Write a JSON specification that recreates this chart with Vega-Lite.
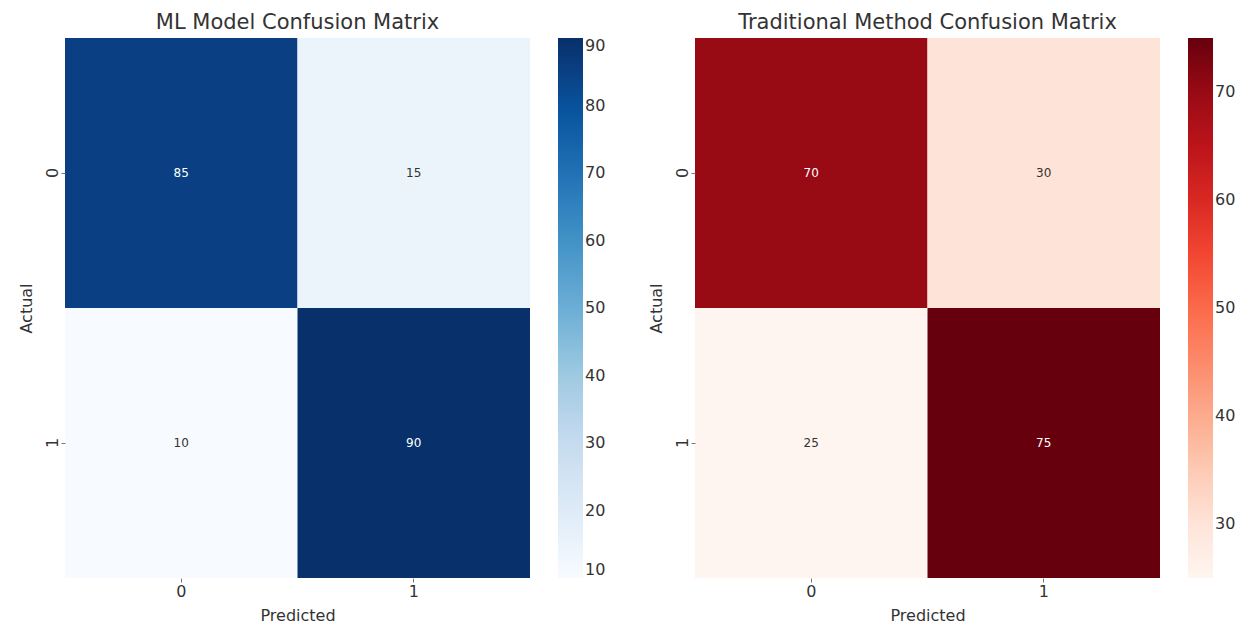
{
  "$schema": "https://vega.github.io/schema/vega-lite/v6.json",
  "background": "white",
  "padding": {"left": 18, "top": 12, "right": 5, "bottom": 5},
  "config": {
    "font": "DejaVu Sans",
    "view": {"stroke": null},
    "axis": {"domain": false, "grid": false, "labelFontSize": 16, "titleFontSize": 16, "labelColor": "#333", "titleColor": "#333", "tickColor": "#777", "tickSize": 4, "titleFontWeight": "normal", "labelPadding": 1, "titlePadding": 8},
    "legend": {"gradientLength": 540, "gradientThickness": 25, "labelFontSize": 16, "labelColor": "#333", "offset": 28, "gradientStrokeWidth": 0, "labelOffset": 6, "labelBaseline": "middle"},
    "title": {"fontSize": 21, "fontWeight": "normal", "color": "#333", "offset": 5}
  },
  "datasets": {
    "ml": [
      {"actual": "0", "predicted": "0", "count": 85},
      {"actual": "0", "predicted": "1", "count": 15},
      {"actual": "1", "predicted": "0", "count": 10},
      {"actual": "1", "predicted": "1", "count": 90}
    ],
    "trad": [
      {"actual": "0", "predicted": "0", "count": 70},
      {"actual": "0", "predicted": "1", "count": 30},
      {"actual": "1", "predicted": "0", "count": 25},
      {"actual": "1", "predicted": "1", "count": 75}
    ]
  },
  "spacing": 42,
  "resolve": {"scale": {"color": "independent"}},
  "hconcat": [
    {
      "title": "ML Model Confusion Matrix",
      "width": 465,
      "height": 540,
      "data": {"name": "ml"},
      "encoding": {
        "x": {"field": "predicted", "type": "ordinal", "title": "Predicted", "axis": {"labelAngle": 0}},
        "y": {"field": "actual", "type": "ordinal", "title": "Actual", "axis": {"labelAngle": -90, "labelAlign": "center", "labelBaseline": "bottom", "titlePadding": 10}}
      },
      "layer": [
        {
          "mark": {"type": "rect"},
          "encoding": {
            "color": {"field": "count", "type": "quantitative", "scale": {"domain": [10, 20, 30, 40, 50, 60, 70, 80, 90], "range": ["#f7fbff", "#deebf7", "#c6dbef", "#9ecae1", "#6baed6", "#4292c6", "#2171b5", "#08519c", "#08306b"]}, "legend": {"title": null, "values": [10, 20, 30, 40, 50, 60, 70, 80, 90]}}
          }
        },
        {
          "mark": {"type": "text", "fontSize": 12},
          "encoding": {
            "text": {"field": "count", "type": "quantitative"},
            "color": {"condition": {"test": "datum.count > 50", "value": "white"}, "value": "#333"}
          }
        }
      ]
    },
    {
      "title": "Traditional Method Confusion Matrix",
      "width": 465,
      "height": 540,
      "data": {"name": "trad"},
      "encoding": {
        "x": {"field": "predicted", "type": "ordinal", "title": "Predicted", "axis": {"labelAngle": 0}},
        "y": {"field": "actual", "type": "ordinal", "title": "Actual", "axis": {"labelAngle": -90, "labelAlign": "center", "labelBaseline": "bottom", "titlePadding": 10}}
      },
      "layer": [
        {
          "mark": {"type": "rect"},
          "encoding": {
            "color": {"field": "count", "type": "quantitative", "scale": {"domain": [25, 31.25, 37.5, 43.75, 50, 56.25, 62.5, 68.75, 75], "range": ["#fff5f0", "#fee0d2", "#fcbba1", "#fc9272", "#fb6a4a", "#ef3b2c", "#cb181d", "#a50f15", "#67000d"]}, "legend": {"title": null, "values": [30, 40, 50, 60, 70]}}
          }
        },
        {
          "mark": {"type": "text", "fontSize": 12},
          "encoding": {
            "text": {"field": "count", "type": "quantitative"},
            "color": {"condition": {"test": "datum.count > 50", "value": "white"}, "value": "#333"}
          }
        }
      ]
    }
  ]
}
